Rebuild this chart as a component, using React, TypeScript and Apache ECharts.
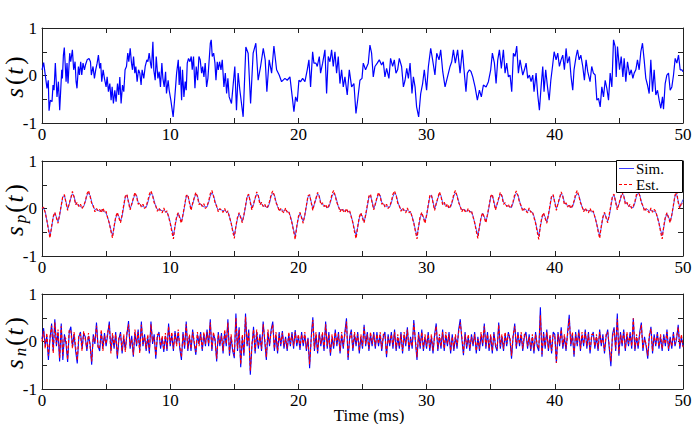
import React, { useEffect, useRef } from 'react';
import * as echarts from 'echarts';

// ---------- data ----------
const STEP = 0.125; // ms, sampling grid of the s_p and s_n traces
const xTickLabels = ['0', '10', '20', '30', '40', '50'];
const yTickLabels = ['-1', '0', '1'];
const legendNames = ['Sim.', 'Est.'];

// s(t): [time (ms), value]
const sPoints: [number, number][] = [
  [0,0.12],[0.13,0.27],[0.26,0.0],[0.39,-0.27],[0.49,-0.1],[0.55,-0.74],[0.65,-0.52],[0.78,-0.55],[0.86,-0.2],[0.94,-0.31],
  [1.04,0.26],[1.17,-0.45],[1.28,-0.13],[1.38,-0.73],[1.54,0.12],[1.59,-0.06],[1.67,0.43],[1.74,0.59],[1.88,-0.13],[1.95,0.26],
  [2.03,-0.17],[2.16,0.47],[2.24,0.29],[2.37,0.54],[2.47,0.12],[2.58,0.29],[2.66,-0.13],[2.73,-0.27],[2.84,0.19],[2.92,0.01],
  [3.02,0.29],[3.1,0.01],[3.2,0.26],[3.31,0.12],[3.39,0.22],[3.52,0.33],[3.67,0.36],[3.78,0.29],[3.85,0.01],[3.98,0.19],
  [4.09,-0.06],[4.19,0.12],[4.3,0.26],[4.4,0.43],[4.5,0.15],[4.58,0.26],[4.66,-0.13],[4.77,0.12],[4.87,-0.06],[5.0,-0.24],
  [5.08,-0.03],[5.18,-0.34],[5.29,-0.17],[5.39,-0.52],[5.47,-0.24],[5.57,-0.59],[5.68,-0.31],[5.78,-0.55],[5.89,-0.17],[5.99,-0.41],
  [6.07,-0.03],[6.17,-0.59],[6.28,-0.2],[6.38,-0.34],[6.48,0.12],[6.59,0.19],[6.69,0.47],[6.77,0.29],[6.88,0.57],[6.98,0.26],
  [7.06,0.12],[7.14,0.4],[7.24,0.05],[7.32,0.19],[7.42,-0.13],[7.53,0.12],[7.63,0.05],[7.73,-0.2],[7.81,0.12],[7.94,-0.06],
  [8.05,0.19],[8.18,0.33],[8.26,0.29],[8.36,0.47],[8.46,0.26],[8.54,0.15],[8.65,0.71],[8.72,0.12],[8.83,-0.1],[8.91,0.4],
  [9.04,-0.06],[9.14,0.08],[9.24,-0.24],[9.35,0.26],[9.43,-0.06],[9.53,-0.24],[9.64,0.08],[9.71,-0.38],[9.84,-0.1],[9.92,-0.31],
  [10.05,-0.52],[10.23,-0.87],[10.34,-0.52],[10.42,-0.24],[10.5,0.05],[10.63,0.33],[10.7,-0.2],[10.78,0.19],[10.89,-0.52],[10.96,0.12],
  [11.07,-0.45],[11.17,-0.13],[11.25,-0.31],[11.33,0.26],[11.43,0.36],[11.54,0.29],[11.64,0.4],[11.72,0.12],[11.82,0.4],[11.93,-0.27],
  [12.03,0.19],[12.14,-0.1],[12.24,0.4],[12.34,0.33],[12.45,0.05],[12.53,0.19],[12.63,-0.03],[12.73,0.26],[12.84,-0.24],[12.94,-0.06],
  [13.13,0.68],[13.2,0.75],[13.28,0.4],[13.39,0.47],[13.49,0.26],[13.57,-0.1],[13.67,0.29],[13.75,0.12],[13.85,0.29],[13.96,0.12],
  [14.06,0.33],[14.19,-0.24],[14.3,0.05],[14.4,-0.38],[14.5,-0.06],[14.6,-0.45],[14.78,-0.59],[15.04,0.19],[15.17,-0.73],[15.3,0.05],
  [15.43,-0.3],[15.69,-0.87],[15.9,0.6],[16.08,0.47],[16.27,-0.59],[16.47,0.47],[16.68,0.68],[16.86,-0.1],[17.05,0.19],[17.26,0.57],
  [17.41,0.33],[17.54,-0.34],[17.72,0.33],[17.91,0.05],[18.09,0.62],[18.3,0.12],[18.5,0.01],[18.69,-0.13],[18.95,-0.06],[19.13,-0.1],
  [19.34,-0.03],[19.52,-0.45],[19.65,-0.76],[19.78,-0.45],[19.91,-0.55],[20.04,-0.1],[20.17,-0.13],[20.33,-0.06],[20.51,-0.13],[20.69,0.12],
  [20.82,0.33],[20.95,-0.24],[21.11,0.5],[21.21,0.26],[21.37,0.26],[21.47,0.19],[21.63,0.4],[21.73,0.05],[21.89,0.26],[22.07,0.54],
  [22.2,-0.38],[22.33,0.4],[22.46,0.29],[22.59,0.54],[22.72,0.19],[22.85,0.5],[22.98,0.05],[23.11,0.4],[23.24,-0.17],[23.37,0.12],
  [23.5,-0.24],[23.63,-0.03],[23.81,-0.41],[23.97,0.12],[24.15,-0.24],[24.33,-0.17],[24.49,-0.8],[24.62,-0.52],[24.8,-0.1],[24.96,-0.06],
  [25.06,0.26],[25.24,0.12],[25.45,0.26],[25.58,0.64],[25.71,0.47],[25.84,-0.03],[25.97,0.19],[26.15,0.26],[26.31,0.33],[26.49,0.22],
  [26.62,0.29],[26.75,-0.03],[26.88,0.15],[27.06,-0.06],[27.19,0.36],[27.35,0.19],[27.48,0.33],[27.61,0.05],[27.74,0.12],[27.87,0.36],
  [28.05,0.19],[28.19,-0.24],[28.32,-0.1],[28.45,0.15],[28.58,-0.06],[28.71,0.26],[28.86,-0.38],[28.97,-0.03],[29.1,-0.24],[29.22,-0.66],
  [29.38,-0.87],[29.54,-0.38],[29.69,-0.17],[29.82,0.12],[30.0,-0.31],[30.14,0.19],[30.32,0.57],[30.47,0.33],[30.65,0.01],[30.79,0.47],
  [30.97,0.33],[31.1,0.54],[31.26,0.08],[31.44,-0.24],[31.63,-0.03],[31.83,0.19],[31.96,0.29],[32.09,0.54],[32.24,0.26],[32.42,0.54],
  [32.61,0.05],[32.79,0.54],[32.92,0.12],[33.07,-0.34],[33.18,0.05],[33.34,0.12],[33.47,0.08],[33.6,-0.03],[33.78,-0.24],[33.96,-0.52],
  [34.12,-0.31],[34.27,-0.45],[34.43,-0.2],[34.64,-0.24],[34.82,-0.13],[35.0,0.12],[35.13,0.47],[35.29,0.26],[35.42,-0.17],[35.55,0.33],
  [35.68,0.54],[35.83,0.15],[35.99,0.54],[36.12,0.05],[36.25,0.26],[36.38,-0.03],[36.51,0.01],[36.64,-0.34],[36.77,0.47],[36.9,0.4],
  [37.03,0.62],[37.16,0.05],[37.29,0.33],[37.5,0.01],[37.63,0.12],[37.76,0.26],[37.89,-0.06],[38.02,0.01],[38.15,-0.13],[38.28,0.01],
  [38.38,-0.34],[38.54,0.05],[38.67,-0.41],[38.8,-0.73],[38.93,-0.24],[39.06,0.19],[39.16,-0.34],[39.29,0.12],[39.43,-0.24],[39.56,-0.52],
  [39.69,-0.1],[39.82,0.19],[39.95,0.5],[40.1,0.33],[40.23,0.47],[40.36,0.19],[40.49,0.33],[40.62,0.43],[40.75,0.12],[40.88,0.57],
  [40.99,0.26],[41.14,0.4],[41.27,-0.03],[41.4,-0.31],[41.5,0.12],[41.66,0.4],[41.77,0.54],[41.9,0.33],[42.03,0.43],[42.18,0.19],
  [42.31,-0.1],[42.44,0.33],[42.57,0.08],[42.75,-0.13],[42.88,0.19],[43.01,0.05],[43.15,0.01],[43.28,-0.52],[43.41,-0.48],[43.54,-0.66],
  [43.67,-0.24],[43.8,-0.45],[43.93,-0.1],[44.06,-0.27],[44.19,-0.52],[44.32,0.05],[44.45,-0.24],[44.58,0.75],[44.71,0.61],[44.79,-0.03],
  [44.89,0.61],[45.05,0.12],[45.18,0.4],[45.31,-0.03],[45.41,0.36],[45.54,-0.13],[45.67,0.29],[45.83,0.01],[45.96,0.12],[46.09,-0.06],
  [46.19,0.05],[46.32,0.12],[46.45,0.33],[46.58,0.12],[46.71,0.5],[46.84,0.68],[46.97,0.33],[47.1,-0.06],[47.23,-0.2],[47.36,-0.38],
  [47.49,0.33],[47.62,-0.34],[47.75,0.12],[47.88,-0.41],[48.01,-0.31],[48.14,-0.52],[48.27,-0.69],[48.4,-0.45],[48.48,-0.71],[48.61,-0.17],
  [48.74,0.01],[48.87,0.05],[49.0,-0.31],[49.13,-0.24],[49.26,0.01],[49.39,0.36],[49.52,0.26],[49.65,0.43],[49.78,0.12],[49.91,0.12],
  [50.0,0.08],
];

// s_p(t) simulated, one value every STEP ms from 0 to 50
const spSim: number[] = [
  0.02, 0.0, -0.06, -0.25, -0.42,
  -0.58, -0.4, -0.19, -0.1, -0.18, -0.28, -0.15, 0.05, 0.25, 0.27, 0.14, -0.01, 0.09, 0.22, 0.31, 0.26, 0.11, 0.08, 0.07, 0.04, 0.02, 0.04, 0.14, 0.27, 0.32, 0.28, 0.14, 0.03, -0.02, -0.03, -0.04, -0.06, -0.03, -0.05, -0.07, -0.1, -0.19, -0.31, -0.45,
  -0.57, -0.39, -0.2, -0.11, -0.17, -0.27, -0.16, 0.04, 0.24, 0.28, 0.15, 0.0, 0.08, 0.2, 0.3, 0.28, 0.13, 0.09, 0.06, 0.04, 0.03, 0.02, 0.12, 0.25, 0.32, 0.29, 0.16, 0.04, -0.02, -0.03, -0.02, -0.06, -0.04, -0.06, -0.08, -0.16, -0.29, -0.44,
  -0.58, -0.38, -0.2, -0.1, -0.18, -0.28, -0.14, 0.05, 0.25, 0.27, 0.14, -0.01, 0.09, 0.21, 0.31, 0.27, 0.12, 0.08, 0.07, 0.03, 0.04, 0.03, 0.13, 0.26, 0.33, 0.28, 0.15, 0.03, -0.03, -0.02, -0.03, -0.05, -0.04, -0.07, -0.07, -0.17, -0.3, -0.45,
  -0.57, -0.39, -0.21, -0.11, -0.17, -0.27, -0.15, 0.04, 0.24, 0.28, 0.15, 0.01, 0.08, 0.21, 0.3, 0.28, 0.12, 0.09, 0.06, 0.05, 0.03, 0.02, 0.12, 0.26, 0.32, 0.29, 0.15, 0.04, -0.02, -0.03, -0.03, -0.06, -0.03, -0.06, -0.08, -0.16, -0.29, -0.45,
  -0.58, -0.39, -0.2, -0.1, -0.18, -0.27, -0.15, 0.05, 0.25, 0.28, 0.14, 0.0, 0.09, 0.2, 0.31, 0.27, 0.12, 0.08, 0.07, 0.04, 0.02, 0.03, 0.13, 0.26, 0.32, 0.28, 0.16, 0.03, -0.03, -0.03, -0.02, -0.06, -0.04, -0.06, -0.07, -0.16, -0.3, -0.44,
  -0.57, -0.4, -0.2, -0.11, -0.17, -0.28, -0.15, 0.04, 0.24, 0.27, 0.15, 0.0, 0.08, 0.21, 0.3, 0.28, 0.13, 0.09, 0.06, 0.04, 0.03, 0.03, 0.12, 0.25, 0.32, 0.29, 0.15, 0.04, -0.02, -0.03, -0.03, -0.05, -0.03, -0.06, -0.08, -0.17, -0.29, -0.45,
  -0.58, -0.39, -0.19, -0.11, -0.18, -0.27, -0.16, 0.05, 0.25, 0.28, 0.14, -0.01, 0.09, 0.21, 0.31, 0.27, 0.12, 0.08, 0.07, 0.04, 0.02, 0.03, 0.13, 0.26, 0.33, 0.28, 0.15, 0.03, -0.03, -0.02, -0.03, -0.06, -0.04, -0.06, -0.07, -0.16, -0.3, -0.44,
  -0.57, -0.39, -0.2, -0.1, -0.17, -0.27, -0.15, 0.04, 0.24, 0.28, 0.15, 0.0, 0.08, 0.2, 0.3, 0.28, 0.13, 0.09, 0.06, 0.05, 0.03, 0.02, 0.12, 0.25, 0.32, 0.29, 0.16, 0.04, -0.02, -0.03, -0.02, -0.06, -0.03, -0.06, -0.08, -0.16, -0.29, -0.45,
  -0.58, -0.38, -0.2, -0.11, -0.18, -0.28, -0.15, 0.05, 0.25, 0.27, 0.14, 0.0, 0.09, 0.21, 0.31, 0.27, 0.12, 0.08, 0.07, 0.04, 0.03, 0.03, 0.13, 0.26, 0.32, 0.28, 0.15, 0.03, -0.03, -0.03, -0.03, -0.05, -0.04, -0.07, -0.07, -0.17, -0.3, -0.44,
  -0.57, -0.4, -0.2, -0.1, -0.17, -0.27, -0.16, 0.04, 0.24, 0.28, 0.15, 0.01, 0.08, 0.2, 0.3, 0.28, 0.13, 0.09, 0.06, 0.04, 0.02, 0.02, 0.12, 0.26, 0.32, 0.29, 0.15, 0.04, -0.02, -0.03, -0.02, -0.06, -0.03, -0.05, -0.06, -0.08, -0.17, -0.3, -0.45,
  -0.57, -0.4, -0.2, -0.11, -0.18, -0.27, -0.15, 0.05, 0.26, 0.3, 0.16, 0.02, 0.1, 0.19,
];

// s_p(t) estimated
const spEst: number[] = [
  0.0, 0.03, -0.09, -0.24, -0.45,
  -0.62, -0.37, -0.17, -0.08, -0.2, -0.31, -0.12, 0.07, 0.26, 0.29, 0.11, -0.04, 0.11, 0.23, 0.36, 0.24, 0.08, 0.13, 0.04, 0.09, 0.0, 0.06, 0.15, 0.3, 0.38, 0.26, 0.11, 0.06, -0.07, 0.0, -0.05, -0.02, -0.09, 0.01, -0.08, -0.06, -0.2, -0.31, -0.48,
  -0.62, -0.37, -0.18, -0.08, -0.2, -0.3, -0.13, 0.07, 0.26, 0.3, 0.12, -0.03, 0.1, 0.22, 0.34, 0.25, 0.09, 0.12, 0.03, 0.09, 0.0, 0.05, 0.16, 0.3, 0.37, 0.27, 0.12, 0.06, -0.06, 0.01, -0.06, -0.09, 0.01, -0.08, -0.05, -0.18, -0.31, -0.49,
  -0.64, -0.36, -0.17, -0.09, -0.21, -0.31, -0.12, 0.07, 0.27, 0.29, 0.12, -0.04, 0.11, 0.23, 0.34, 0.25, 0.08, 0.12, 0.04, 0.1, 0.0, 0.06, 0.15, 0.31, 0.38, 0.26, 0.12, 0.05, -0.07, 0.0, -0.05, -0.08, 0.0, -0.09, -0.05, -0.19, -0.3, -0.48,
  -0.63, -0.37, -0.18, -0.09, -0.2, -0.3, -0.13, 0.06, 0.26, 0.3, 0.12, -0.03, 0.1, 0.22, 0.35, 0.26, 0.08, 0.13, 0.04, 0.09, 0.01, 0.05, 0.15, 0.3, 0.37, 0.27, 0.12, 0.06, -0.06, 0.0, -0.06, -0.09, 0.01, -0.08, -0.06, -0.18, -0.31, -0.48,
  -0.65, -0.37, -0.17, -0.08, -0.2, -0.31, -0.13, 0.07, 0.27, 0.29, 0.12, -0.04, 0.11, 0.22, 0.34, 0.25, 0.08, 0.12, 0.04, 0.09, 0.0, 0.06, 0.16, 0.31, 0.38, 0.26, 0.12, 0.05, -0.07, 0.0, -0.05, -0.09, 0.0, -0.08, -0.05, -0.18, -0.3, -0.49,
  -0.63, -0.38, -0.18, -0.09, -0.21, -0.3, -0.12, 0.07, 0.26, 0.3, 0.12, -0.03, 0.1, 0.23, 0.34, 0.26, 0.09, 0.12, 0.03, 0.09, 0.0, 0.05, 0.15, 0.3, 0.37, 0.27, 0.11, 0.06, -0.06, 0.01, -0.05, -0.09, 0.01, -0.09, -0.06, -0.19, -0.31, -0.48,
  -0.64, -0.37, -0.17, -0.08, -0.2, -0.31, -0.13, 0.07, 0.27, 0.29, 0.12, -0.04, 0.11, 0.22, 0.35, 0.25, 0.08, 0.13, 0.04, 0.1, 0.0, 0.06, 0.16, 0.31, 0.38, 0.26, 0.12, 0.05, -0.07, 0.0, -0.06, -0.08, 0.0, -0.08, -0.05, -0.18, -0.3, -0.48,
  -0.63, -0.37, -0.18, -0.09, -0.2, -0.3, -0.12, 0.06, 0.26, 0.3, 0.12, -0.03, 0.1, 0.22, 0.34, 0.26, 0.09, 0.12, 0.04, 0.09, 0.01, 0.05, 0.15, 0.3, 0.37, 0.27, 0.12, 0.06, -0.06, 0.0, -0.05, -0.09, 0.01, -0.08, -0.06, -0.19, -0.31, -0.49,
  -0.65, -0.36, -0.17, -0.09, -0.21, -0.31, -0.13, 0.07, 0.27, 0.29, 0.11, -0.04, 0.11, 0.23, 0.35, 0.25, 0.08, 0.12, 0.03, 0.09, 0.0, 0.06, 0.16, 0.31, 0.38, 0.26, 0.12, 0.05, -0.07, 0.01, -0.06, -0.09, 0.0, -0.08, -0.05, -0.18, -0.3, -0.48,
  -0.63, -0.37, -0.18, -0.08, -0.2, -0.3, -0.12, 0.07, 0.26, 0.3, 0.12, -0.03, 0.1, 0.22, 0.34, 0.26, 0.09, 0.13, 0.04, 0.09, 0.0, 0.05, 0.15, 0.3, 0.38, 0.27, 0.12, 0.06, -0.06, 0.0, -0.05, -0.09, 0.01, -0.08, -0.02, -0.06, -0.19, -0.31, -0.49,
  -0.64, -0.37, -0.17, -0.09, -0.2, -0.3, -0.13, 0.07, 0.28, 0.36, 0.13, 0.0, 0.12, 0.1,
];

// s_n(t) simulated, one value every STEP ms
const snSim: number[] = [
  0.05, 0.28, -0.1, 0.12, -0.39, 0.05, 0.38, -0.2,
  0.47, -0.1, 0.2, -0.42, 0.38, -0.39, 0.15, -0.05,
  -0.43, 0.2, 0.31, -0.1, 0.15, -0.2, -0.46, 0.1,
  0.2, -0.15, 0.17, 0.1, -0.2, 0.12, -0.05, -0.49,
  0.15, -0.05, 0.4, -0.1, -0.2, 0.2, -0.15, 0.18,
  -0.1, 0.15, 0.42, -0.2, 0.12, -0.15, 0.2, -0.36,
  0.05, 0.2, -0.25, 0.1, -0.18, 0.15, 0.43, -0.15,
  0.12, -0.32, 0.2, -0.1, 0.25, -0.2, 0.42, -0.1,
  0.15, -0.2, 0.1, -0.25, 0.42, -0.05, 0.15, -0.36,
  0.1, 0.2, -0.15, 0.08, -0.22, 0.12, -0.2, 0.38,
  -0.1, 0.15, -0.2, 0.22, -0.05, 0.2, -0.15, -0.39,
  0.2, -0.15, 0.42, -0.2, 0.1, -0.2, 0.25, -0.05,
  -0.28, 0.15, -0.05, 0.2, -0.2, 0.15, -0.1, 0.25,
  -0.1, 0.47, -0.2, 0.15, 0.05, -0.42, 0.2, -0.1,
  0.18, -0.25, 0.2, -0.1, 0.47, -0.3, 0.1, -0.2,
  -0.35, 0.59, -0.2, 0.3, -0.54, 0.1, -0.3, 0.59,
  -0.1, 0.25, -0.7, -0.1, 0.31, -0.25, 0.2, -0.15,
  0.15, -0.2, 0.42, 0.0, -0.39, 0.2, -0.1, 0.25,
  0.42, -0.2, 0.15, -0.25, 0.2, -0.1, 0.22, -0.15,
  0.1, -0.2, 0.15, -0.1, 0.2, -0.15, 0.24, -0.1,
  0.12, -0.18, 0.2, -0.1, 0.15, -0.2, 0.08, -0.56,
  0.1, 0.51, -0.2, 0.15, -0.25, 0.2, -0.1, 0.15,
  -0.2, 0.42, -0.15, 0.2, -0.3, 0.1, -0.15, 0.25,
  -0.1, 0.2, -0.25, 0.15, -0.15, 0.2, 0.49, -0.39,
  0.1, 0.25, -0.2, 0.15, -0.1, 0.2, -0.25, 0.1,
  -0.15, 0.35, -0.1, 0.2, -0.2, 0.15, -0.1, 0.2,
  -0.15, 0.2, -0.1, 0.15, -0.2, 0.1, 0.2, -0.33,
  0.15, -0.1, 0.2, -0.15, 0.25, -0.2, 0.1, -0.15,
  0.2, -0.25, 0.15, -0.1, 0.3, -0.2, 0.1, -0.15,
  0.45, 0.0, -0.39, 0.2, -0.15, 0.25, -0.2, 0.1,
  -0.15, 0.2, -0.2, 0.1, -0.25, 0.15, 0.38, -0.2,
  0.1, -0.15, 0.25, -0.2, 0.15, -0.1, 0.2, -0.25,
  0.15, -0.2, 0.1, -0.15, 0.25, 0.47, 0.05, -0.29,
  0.2, -0.15, 0.1, -0.2, 0.15, -0.1, 0.2, -0.25,
  0.1, -0.2, 0.15, -0.1, 0.38, -0.15, 0.2, -0.2,
  0.12, -0.25, 0.2, -0.1, -0.2, 0.4, -0.15, 0.1,
  -0.2, 0.15, -0.1, 0.2, 0.05, -0.36, 0.1, 0.38,
  -0.15, 0.2, -0.1, 0.15, -0.2, 0.1, 0.2, -0.15,
  0.15, -0.2, 0.1, -0.25, 0.2, -0.1, -0.2, 0.72,
  -0.32, 0.2, -0.15, 0.25, -0.2, 0.1, -0.25, 0.2,
  0.15, -0.45, 0.2, -0.1, 0.3, -0.15, 0.1, -0.2,
  0.2, 0.56, -0.1, 0.15, -0.32, 0.2, -0.1, 0.25,
  -0.2, 0.15, -0.1, 0.25, -0.15, 0.2, -0.25, 0.1,
  0.2, -0.15, 0.1, -0.2, 0.25, -0.1, 0.15, -0.25,
  0.1, 0.25, -0.15, -0.52, 0.15, 0.3, -0.2, 0.59,
  -0.3, 0.2, -0.1, 0.25, -0.2, 0.15, -0.1, 0.2,
  -0.15, 0.49, -0.2, 0.1, -0.15, 0.2, 0.4, -0.2,
  0.1, -0.1, -0.36, 0.1, 0.31, -0.25, 0.15, -0.1,
  0.2, -0.15, 0.1, -0.2, 0.15, -0.1, 0.25, -0.2,
  0.1, -0.15, 0.2, -0.1, 0.05, 0.35, -0.15, 0.1,
  -0.1,
];

// s_n(t) estimated
const snEst: number[] = [
  0.0, 0.22, -0.15, 0.18, -0.3, 0.1, 0.33, -0.25,
  0.4, -0.05, 0.25, -0.35, 0.32, -0.3, 0.1, 0.05,
  -0.38, 0.25, 0.22, -0.15, 0.2, -0.12, -0.4, 0.15,
  0.15, -0.2, 0.22, 0.05, -0.15, 0.18, -0.1, -0.42,
  0.1, 0.0, 0.33, -0.15, -0.12, 0.25, -0.2, 0.12,
  -0.05, 0.2, 0.36, -0.25, 0.18, -0.1, 0.15, -0.3,
  0.1, 0.15, -0.2, 0.15, -0.22, 0.2, 0.36, -0.1,
  0.05, -0.28, 0.25, -0.05, 0.2, -0.25, 0.35, -0.05,
  0.1, -0.15, 0.15, -0.2, 0.36, 0.0, 0.1, -0.3,
  0.15, 0.15, -0.1, 0.12, -0.18, 0.18, -0.15, 0.32,
  -0.05, 0.2, -0.15, 0.18, -0.1, 0.25, -0.1, -0.33,
  0.15, -0.1, 0.36, -0.15, 0.15, -0.15, 0.2, 0.0,
  -0.22, 0.2, -0.1, 0.15, -0.15, 0.2, -0.05, 0.2,
  -0.05, 0.4, -0.15, 0.2, 0.0, -0.36, 0.15, -0.05,
  0.12, -0.2, 0.25, -0.05, 0.4, -0.25, 0.15, -0.15,
  -0.3, 0.5, -0.15, 0.25, -0.48, 0.15, -0.25, 0.52,
  -0.05, 0.2, -0.62, -0.05, 0.25, -0.2, 0.25, -0.1,
  0.1, -0.15, 0.36, 0.05, -0.33, 0.25, -0.05, 0.2,
  0.36, -0.15, 0.2, -0.2, 0.15, -0.05, 0.18, -0.1,
  0.05, -0.15, 0.2, -0.05, 0.15, -0.1, 0.2, -0.05,
  0.15, -0.12, 0.15, -0.05, 0.2, -0.15, 0.05, -0.48,
  0.05, 0.45, -0.15, 0.2, -0.2, 0.15, -0.05, 0.2,
  -0.15, 0.36, -0.1, 0.15, -0.25, 0.15, -0.1, 0.2,
  -0.05, 0.15, -0.2, 0.2, -0.1, 0.15, 0.42, -0.33,
  0.05, 0.2, -0.15, 0.2, -0.05, 0.15, -0.2, 0.15,
  -0.1, 0.3, -0.05, 0.15, -0.15, 0.2, -0.05, 0.15,
  -0.1, 0.15, -0.05, 0.2, -0.15, 0.15, 0.15, -0.28,
  0.1, -0.05, 0.15, -0.1, 0.2, -0.15, 0.15, -0.1,
  0.15, -0.2, 0.2, -0.05, 0.25, -0.15, 0.05, -0.1,
  0.38, 0.05, -0.33, 0.15, -0.1, 0.2, -0.15, 0.15,
  -0.1, 0.15, -0.15, 0.15, -0.2, 0.1, 0.32, -0.15,
  0.15, -0.1, 0.2, -0.15, 0.2, -0.05, 0.15, -0.2,
  0.1, -0.15, 0.15, -0.1, 0.2, 0.4, 0.1, -0.24,
  0.15, -0.1, 0.15, -0.15, 0.1, -0.05, 0.15, -0.2,
  0.05, -0.15, 0.2, -0.05, 0.32, -0.1, 0.15, -0.15,
  0.15, -0.2, 0.15, -0.05, -0.15, 0.35, -0.1, 0.15,
  -0.15, 0.2, -0.05, 0.15, 0.1, -0.3, 0.15, 0.32,
  -0.1, 0.15, -0.05, 0.2, -0.15, 0.15, 0.15, -0.1,
  0.1, -0.15, 0.15, -0.2, 0.15, -0.05, -0.15, 0.55,
  -0.27, 0.15, -0.1, 0.2, -0.15, 0.15, -0.2, 0.15,
  0.1, -0.45, 0.15, -0.05, 0.25, -0.1, 0.15, -0.15,
  0.15, 0.48, -0.05, 0.2, -0.27, 0.15, -0.05, 0.2,
  -0.15, 0.2, -0.05, 0.2, -0.1, 0.15, -0.2, 0.15,
  0.15, -0.1, 0.15, -0.15, 0.2, -0.05, 0.1, -0.2,
  0.15, 0.2, -0.1, -0.42, 0.1, 0.25, -0.15, 0.48,
  -0.25, 0.15, -0.05, 0.2, -0.15, 0.2, -0.05, 0.15,
  -0.1, 0.49, -0.15, 0.15, -0.1, 0.15, 0.35, -0.15,
  0.05, -0.05, -0.3, 0.15, 0.27, -0.2, 0.1, -0.05,
  0.15, -0.1, 0.15, -0.15, 0.1, -0.05, 0.2, -0.15,
  0.05, -0.1, 0.15, -0.05, 0.1, 0.3, -0.1, 0.15,
  -0.12,
];

// ---------- chart ----------
const FONT = 'Liberation Serif';
const AXIS_COLOR = '#222';
const GRID_TOPS = [28, 161, 294];
const GRID_LEFT = 42;
const GRID_W = 641;
const GRID_H = 95;
const SIM_COLOR = '#3a3aff';
const EST_COLOR = '#ff0000';

const toPairs = (vals: number[]) => vals.map((v, i) => [i * STEP, v]);

export default function App() {
  const ref = useRef<HTMLDivElement>(null);

  useEffect(() => {
    if (!ref.current) return;
    const chart = echarts.init(ref.current, undefined, { renderer: 'svg' });

    const grids = GRID_TOPS.map((top) => ({ left: GRID_LEFT, top, width: GRID_W, height: GRID_H, containLabel: false }));

    const xAxes: any[] = [];
    const yAxes: any[] = [];
    GRID_TOPS.forEach((_, g) => {
      ['bottom', 'top'].forEach((pos) => {
        xAxes.push({
          type: 'value', gridIndex: g, position: pos, min: 0, max: 50, interval: 5,
          axisLine: { show: true, onZero: false, lineStyle: { color: AXIS_COLOR, width: 1 } },
          axisTick: { show: true, inside: true, length: 5, lineStyle: { color: AXIS_COLOR, width: 1 } },
          splitLine: { show: false },
          axisLabel: pos === 'bottom' ? {
            show: true, margin: 3, color: '#000', fontFamily: FONT, fontSize: 17,
            formatter: (v: number) => (xTickLabels.includes(String(v)) ? String(v) : ''),
          } : { show: false },
        });
      });
      ['left', 'right'].forEach((pos) => {
        yAxes.push({
          type: 'value', gridIndex: g, position: pos, min: -1, max: 1, interval: 0.5,
          axisLine: { show: true, onZero: false, lineStyle: { color: AXIS_COLOR, width: 1 } },
          axisTick: { show: true, inside: true, length: 5, lineStyle: { color: AXIS_COLOR, width: 1 } },
          splitLine: { show: false },
          axisLabel: pos === 'left' ? {
            show: true, margin: 5, color: '#000', fontFamily: FONT, fontSize: 17,
            formatter: (v: number) => (yTickLabels.includes(String(v)) ? String(v) : ''),
          } : { show: false },
        });
      });
    });

    const line = (name: string, data: any[], axis: number, color: string, width: number, dashed: boolean, z: number) => ({
      name, type: 'line', data, xAxisIndex: axis * 2, yAxisIndex: axis * 2,
      symbol: 'none', showSymbol: false, silent: true, z,
      lineStyle: { color, width, type: dashed ? [3, 2] : 'solid' },
      itemStyle: { color },
    });

    const bigRich = {
      i: { fontFamily: FONT, fontStyle: 'italic', fontSize: 25, fill: '#000', padding: [0, 3, 0, 0] },
      r: { fontFamily: FONT, fontSize: 25, fill: '#000', padding: [0, 2, 0, 0] },
      sub: { fontFamily: FONT, fontStyle: 'italic', fontSize: 17, fill: '#000', padding: [12, 2, 0, 0] },
    };
    const yTitle = (text: string, cy: number) => ({
      type: 'text', x: 14, y: cy, rotation: Math.PI / 2, silent: true,
      style: { text, rich: bigRich, align: 'center', verticalAlign: 'middle', fill: '#000' },
    });

    // legend box drawn in the upper-right corner of the middle panel
    const LX = 616, LY = 160, LW = 66, LH = 32;
    const legendEls: any[] = [
      { type: 'rect', z: 100, silent: true, shape: { x: LX + 0.5, y: LY + 0.5, width: LW, height: LH },
        style: { fill: '#fff', stroke: '#000', lineWidth: 1 } },
      { type: 'line', z: 101, silent: true, shape: { x1: LX + 3, y1: LY + 8.5, x2: LX + 18, y2: LY + 8.5 },
        style: { stroke: SIM_COLOR, lineWidth: 1 } },
      { type: 'line', z: 101, silent: true, shape: { x1: LX + 3, y1: LY + 24.5, x2: LX + 18, y2: LY + 24.5 },
        style: { stroke: EST_COLOR, lineWidth: 1.2, lineDash: [3, 2] } },
      { type: 'text', z: 101, silent: true, x: LX + 20, y: LY + 8.5,
        style: { text: legendNames[0], fontFamily: FONT, fontSize: 15, fill: '#000', align: 'left', verticalAlign: 'middle' } },
      { type: 'text', z: 101, silent: true, x: LX + 20, y: LY + 24.5,
        style: { text: legendNames[1], fontFamily: FONT, fontSize: 15, fill: '#000', align: 'left', verticalAlign: 'middle' } },
    ];

    chart.setOption({
      animation: false,
      backgroundColor: '#fff',
      grid: grids,
      xAxis: xAxes,
      yAxis: yAxes,
      series: [
        line('s', sPoints, 0, '#0000ff', 1.2, false, 2),
        line(legendNames[0], toPairs(spSim), 1, SIM_COLOR, 0.9, false, 2),
        line(legendNames[1], toPairs(spEst), 1, EST_COLOR, 1.2, true, 3),
        line('snSim', toPairs(snSim), 2, '#0000ff', 1.1, false, 2),
        line('snEst', toPairs(snEst), 2, EST_COLOR, 1.1, true, 3),
      ],
      graphic: [
        yTitle('{i|s}{r|(}{i|t}{r|)}', 76),
        yTitle('{i|s}{sub|p}{r|(}{i|t}{r|)}', 209),
        yTitle('{i|s}{sub|n}{r|(}{i|t}{r|)}', 342),
        {
          type: 'text', x: 369, y: 407, silent: true,
          style: { text: 'Time (ms)', fontFamily: FONT, fontSize: 17, fill: '#000', align: 'center', verticalAlign: 'top' },
        },
        ...legendEls,
      ],
    });

    return () => chart.dispose();
  }, []);

  return <div ref={ref} style={{ position: 'fixed', left: 0, top: 0, width: 696, height: 424, background: '#fff' }} />;
}
